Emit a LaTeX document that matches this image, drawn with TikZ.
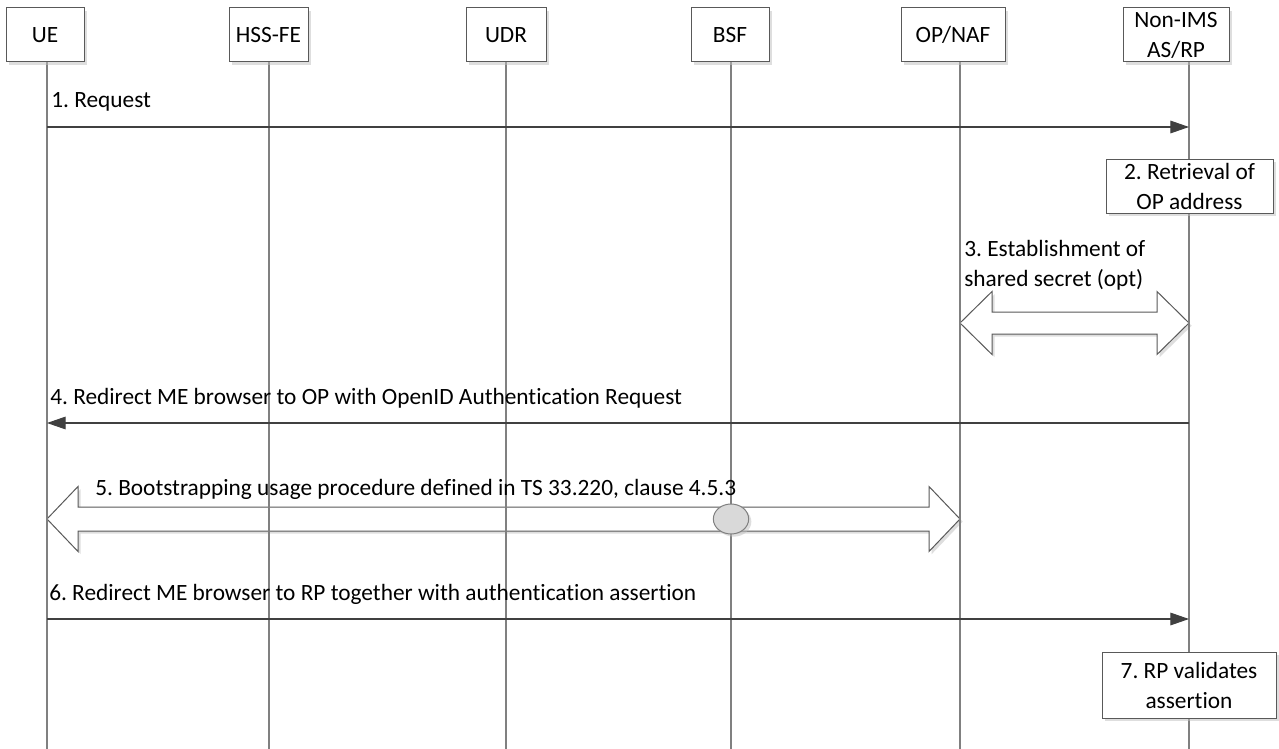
\documentclass[tikz,border=0pt]{standalone}
\usepackage{fontspec}
\setmainfont[Ligatures=NoCommon]{Carlito}
\usetikzlibrary{arrows.meta,shadows,shapes.geometric,calc}
\definecolor{linegray}{HTML}{808080}
\definecolor{boxgray}{HTML}{595959}
\definecolor{msggray}{HTML}{404040}
\definecolor{markfill}{HTML}{D9D9D9}

% double-headed block arrow: tips #2 and #3, head length #4, head half-height #5, shaft half-height #6
\newcommand{\dblblockarrow}[6][]{%
  \path[blockarrow,#1] (#2) -- ($(#2)+(#4,-#5)$) -- ($(#2)+(#4,-#6)$) -- ($(#3)+(-#4,-#6)$)
    -- ($(#3)+(-#4,-#5)$) -- (#3) -- ($(#3)+(-#4,#5)$) -- ($(#3)+(-#4,#6)$)
    -- ($(#2)+(#4,#6)$) -- ($(#2)+(#4,#5)$) -- cycle;}

\begin{document}
\frenchspacing
\begin{tikzpicture}[x=0.75pt,y=-0.75pt,
  font=\fontsize{17.5}{22.5}\selectfont,
  softshadow/.style={drop shadow={shadow xshift=2pt,shadow yshift=-2pt,fill=black!25,opacity=0.5}},
  actor/.style={draw=boxgray,fill=white,line width=0.75pt,minimum height=40.5pt,inner sep=0pt,align=center,softshadow},
  stepbox/.style={draw=boxgray,fill=white,line width=0.75pt,inner sep=0pt,align=center,softshadow},
  lifeline/.style={draw=linegray,line width=1.1pt},
  msg/.style={draw=msggray,line width=0.8pt,-{Triangle[length=14pt,width=9.5pt]}},
  blockarrow/.style={draw=boxgray,fill=white,line width=0.75pt,softshadow},
  msglabel/.style={anchor=base west,inner sep=0pt}
]
\useasboundingbox[fill=white] (0,0) rectangle (1279,749);

% lifeline positions
\coordinate (ueL)   at (47,62);   \coordinate (ueB)   at (47,749);
\coordinate (hssL)  at (269,62);  \coordinate (hssB)  at (269,749);
\coordinate (udrL)  at (506,62);  \coordinate (udrB)  at (506,749);
\coordinate (bsfL)  at (731,62);  \coordinate (bsfB)  at (731,749);
\coordinate (opL)   at (960,62);  \coordinate (opB)   at (960,749);
\coordinate (rpL)   at (1189,62); \coordinate (rpB)   at (1189,749);

% message rows
\coordinate (r1) at (0,127);
\coordinate (r3) at (0,323);
\coordinate (r4) at (0,423);
\coordinate (r5) at (0,519);
\coordinate (r6) at (0,619);

% block arrows (3 and 5)
\dblblockarrow{opL |- r3}{rpL |- r3}{32}{31.5}{11}
\dblblockarrow{ueL |- r5}{opL |- r5}{31}{32.5}{12}

% lifelines
\foreach \n in {ue,hss,udr,bsf,op,rp}
  \draw[lifeline] (\n L) -- (\n B);

% participants
\node[actor,minimum width=58.5pt]  (ue)  at (45,35)    {UE};
\node[actor,minimum width=59.25pt] (hss) at (268.5,35) {HSS-FE};
\node[actor,minimum width=60pt]    (udr) at (506,35)   {UDR};
\node[actor,minimum width=58.5pt]  (bsf) at (730,35)   {BSF};
\node[actor,minimum width=78pt]    (op)  at (953,35)   {OP/NAF};
\node[actor,minimum width=79.5pt]  (rp)  at (1176,35)  {Non-IMS\\AS/RP};

% 1. Request
\draw[msg] (ueL |- r1) -- (rpL |- r1);
\node[msglabel] (l1) at (51,108) {1. Request};

% 2. Retrieval of OP address
\node[stepbox,minimum width=125.25pt,minimum height=40.5pt] (s2) at (1189.5,186) {2. Retrieval of\\OP address};

% 3. shared secret
\node[anchor=north west,inner sep=0pt,align=left] (l3) at (964,240) {3. Establishment of\\shared secret (opt)};

% 4. Redirect to OP
\draw[msg] (rpL |- r4) -- (ueL |- r4);
\node[msglabel] (l4) at (50,404) {4. Redirect ME browser to OP with OpenID Authentication Request};

% 5. Bootstrapping usage
\node[msglabel] (l5) at (95,495) {5. Bootstrapping usage procedure defined in TS 33.220, clause 4.5.3};
\node[ellipse,draw=linegray,fill=markfill,line width=0.75pt,minimum width=26.5pt,minimum height=22.5pt,inner sep=0pt,softshadow] (mark) at (bsfL |- r5) {};

% 6. Redirect to RP
\draw[msg] (ueL |- r6) -- (rpL |- r6);
\node[msglabel] (l6) at (49,600) {6. Redirect ME browser to RP together with authentication assertion};

% 7. RP validates assertion
\node[stepbox,minimum width=130.5pt,minimum height=49.5pt] (s7) at (1189,685) {7. RP validates\\assertion};
\end{tikzpicture}
\end{document}
